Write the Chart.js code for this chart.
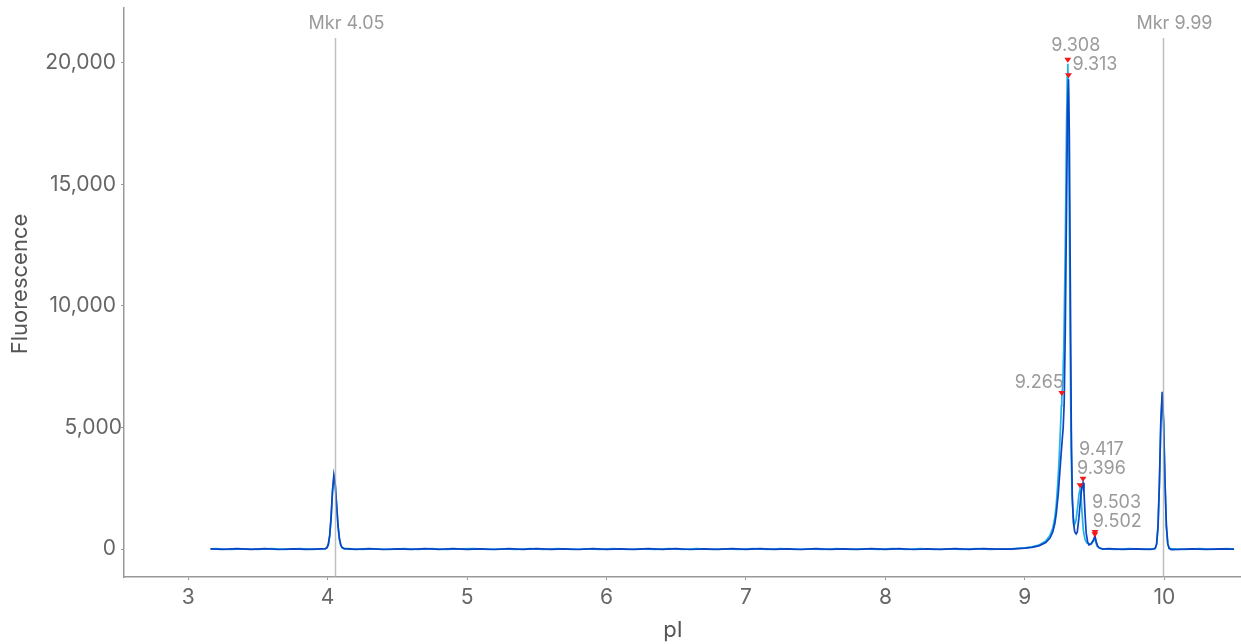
<!DOCTYPE html>
<html>
<head>
<meta charset="utf-8">
<script src="https://cdn.jsdelivr.net/npm/chart.js@4.4.1/dist/chart.umd.min.js"></script>
<style>
  html, body { margin: 0; padding: 0; background: #fff; }
  #wrap { width: 1241px; height: 644px; position: relative; }
</style>
</head>
<body>
<div id="wrap"><canvas id="gel"></canvas></div>
<script>
// Electropherogram: two overlaid traces (pI vs fluorescence)

// dark blue trace [pI, fluorescence]
const blueTrace = [
  [3.16, 10], [3.25, -15], [3.35, 20], [3.45, -10], [3.55, 15], [3.65, -20], [3.75, 10], [3.85, -15], [3.95, 10],
  [3.985, 20], [3.995, 60], [4.005, 190], [4.015, 560], [4.025, 1300], [4.035, 2400], [4.045, 3040],
  [4.055, 2650], [4.065, 1800], [4.075, 950], [4.085, 420], [4.095, 160], [4.105, 60], [4.12, 15],
  [4.2, -10], [4.3, 15], [4.4, -20], [4.5, 10], [4.6, -15], [4.7, 20], [4.8, -10], [4.9, 15],
  [5.0, -15], [5.1, 10], [5.2, -20], [5.3, 15], [5.4, -10], [5.5, 20], [5.6, -15], [5.7, 10], [5.8, -20], [5.9, 15],
  [6.0, -10], [6.1, 10], [6.2, -15], [6.3, 20], [6.4, -10], [6.5, 15], [6.6, -20], [6.7, 10], [6.8, -15], [6.9, 15],
  [7.0, -10], [7.1, 20], [7.2, -15], [7.3, 10], [7.4, -20], [7.5, 15], [7.6, -10], [7.7, 10], [7.8, -15], [7.9, 20],
  [8.0, -10], [8.1, 15], [8.2, -20], [8.3, 10], [8.4, -15], [8.5, 20], [8.6, -10], [8.7, 15], [8.8, -5],
  [8.9, 0], [8.95, 20], [9.0, 40], [9.05, 70], [9.1, 130], [9.15, 270], [9.18, 450], [9.2, 700],
  [9.215, 1050], [9.225, 1450], [9.24, 2300], [9.25, 3100], [9.26, 3900], [9.268, 4500], [9.275, 5000],
  [9.282, 6000], [9.29, 9000], [9.298, 13500], [9.306, 18000], [9.313, 19320], [9.319, 17000],
  [9.326, 11000], [9.333, 5000], [9.34, 2200], [9.348, 1100], [9.358, 700], [9.368, 620], [9.376, 700],
  [9.388, 1300], [9.4, 2100], [9.41, 2600], [9.417, 2728], [9.424, 2350], [9.432, 1400], [9.44, 650],
  [9.45, 300], [9.46, 170], [9.475, 200], [9.49, 350], [9.503, 537], [9.512, 300], [9.522, 120],
  [9.535, 40], [9.56, 0], [9.6, 15], [9.7, -15], [9.8, 10], [9.9, -10], [9.93, 10],
  [9.935, 30], [9.945, 210], [9.955, 940], [9.965, 2750], [9.975, 5240], [9.985, 6470], [9.995, 5240],
  [10.005, 2750], [10.015, 940], [10.025, 210], [10.035, 30],
  [10.05, -20], [10.1, -15], [10.2, 10], [10.3, -15], [10.4, 10], [10.5, -5]
];

// light cyan trace [pI, fluorescence]
const cyanTrace = [
  [3.16, -5], [3.2, 15], [3.3, -20], [3.4, 10], [3.5, -15], [3.6, 20], [3.7, -10], [3.8, 15], [3.9, -15],
  [3.985, 15], [3.995, 50], [4.005, 170], [4.015, 520], [4.025, 1250], [4.035, 2300], [4.045, 2950],
  [4.055, 2600], [4.065, 1750], [4.075, 920], [4.085, 400], [4.095, 150], [4.105, 50], [4.12, 10],
  [4.15, 15], [4.25, -20], [4.35, 10], [4.45, -15], [4.55, 20], [4.65, -10], [4.75, 15], [4.85, -20], [4.95, 10],
  [5.05, 20], [5.15, -15], [5.25, 10], [5.35, -20], [5.45, 15], [5.55, -10], [5.65, 20], [5.75, -15], [5.85, 10], [5.95, -10],
  [6.05, 15], [6.15, -20], [6.25, 10], [6.35, -15], [6.45, 20], [6.55, -10], [6.65, 15], [6.75, -20], [6.85, 10], [6.95, -15],
  [7.05, 15], [7.15, -10], [7.25, 20], [7.35, -15], [7.45, 10], [7.55, -20], [7.65, 15], [7.75, -10], [7.85, 10], [7.95, -15],
  [8.05, 20], [8.15, -10], [8.25, 15], [8.35, -20], [8.45, 10], [8.55, -15], [8.65, 20], [8.75, -10], [8.85, 5],
  [8.9, 10], [8.95, 30], [9.0, 50], [9.05, 90], [9.1, 160], [9.15, 330], [9.18, 560], [9.2, 850],
  [9.215, 1300], [9.225, 1800], [9.235, 2600], [9.245, 3600], [9.255, 4900], [9.262, 5900], [9.265, 6250],
  [9.272, 6800], [9.28, 8500], [9.29, 12500], [9.298, 17000], [9.304, 19500], [9.308, 19960], [9.312, 18800],
  [9.318, 14500], [9.325, 8500], [9.332, 4000], [9.34, 2000], [9.348, 1300], [9.356, 1000], [9.366, 1150],
  [9.378, 1700], [9.388, 2250], [9.396, 2455], [9.403, 2200], [9.41, 1500], [9.42, 750], [9.432, 380],
  [9.445, 250], [9.46, 200], [9.475, 230], [9.49, 320], [9.502, 440], [9.51, 250], [9.52, 110],
  [9.535, 40], [9.56, 10], [9.65, -15], [9.75, 15], [9.85, -10], [9.92, 10],
  [9.935, 25], [9.945, 200], [9.955, 900], [9.965, 2650], [9.975, 5100], [9.985, 6350], [9.995, 5150],
  [10.005, 2700], [10.015, 920], [10.025, 200], [10.035, 25],
  [10.05, 15], [10.15, -20], [10.25, 15], [10.35, -10], [10.45, 15], [10.5, 0]
];

// axis ticks
const xTicks = [3, 4, 5, 6, 7, 8, 9, 10];
const yTicks = [0, 5000, 10000, 15000, 20000];

// reference markers
const markerPI = [4.05, 9.99];
const markerNames = ["Mkr 4.05", "Mkr 9.99"];

// called peaks
const peakNames = ["9.265", "9.308", "9.313", "9.396", "9.417", "9.502", "9.503"];
const peakPI = [9.265, 9.308, 9.313, 9.396, 9.417, 9.502, 9.503];
const peakHeight = [6250, 19960, 19320, 2455, 2728, 440, 537];

const FONT = "Inter, 'Noto Sans', sans-serif";

// label placement relative to the triangle tip: [dx, dy, align]
const peakLabelPlace = [
  [2, -13, "right"],
  [8, -17, "center"],
  [4, -14, "left"],
  [-3, -20, "left"],
  [-4, -32, "left"],
  [-2, -16, "left"],
  [-3, -32, "left"],
];

const annotations = {
  id: "annotations",
  afterDatasetsDraw(chart) {
    const { ctx, chartArea, scales } = chart;
    const x = scales.x, y = scales.y;
    ctx.save();

    // marker lines
    markerPI.forEach((v, i) => {
      const px = Math.round(x.getPixelForValue(v)) + 0.5;
      ctx.strokeStyle = "rgba(170,170,170,0.75)";
      ctx.lineWidth = 1.5;
      ctx.beginPath();
      ctx.moveTo(px, 38);
      ctx.lineTo(px, chartArea.bottom);
      ctx.stroke();
      ctx.fillStyle = "#9a9a9a";
      ctx.font = "18px " + FONT;
      ctx.textAlign = "center";
      ctx.textBaseline = "middle";
      ctx.fillText(markerNames[i], px + 11, 24);
    });

    // peak triangles + labels
    peakPI.forEach((v, i) => {
      const px = x.getPixelForValue(v);
      const tip = y.getPixelForValue(peakHeight[i]) - 1;
      ctx.fillStyle = "#f21a1a";
      ctx.beginPath();
      ctx.moveTo(px, tip);
      ctx.lineTo(px - 3.5, tip - 5);
      ctx.lineTo(px + 3.5, tip - 5);
      ctx.closePath();
      ctx.fill();

      const p = peakLabelPlace[i];
      ctx.fillStyle = "#9a9a9a";
      ctx.font = "18px " + FONT;
      ctx.textAlign = p[2];
      ctx.textBaseline = "middle";
      ctx.fillText(peakNames[i], px + p[0], tip + p[1]);
    });

    // y tick labels (the 5,000 one sits against the axis in the original)
    ctx.fillStyle = "#666";
    ctx.font = "21px " + FONT;
    ctx.textAlign = "right";
    ctx.textBaseline = "middle";
    yTicks.forEach((v) => {
      const shift = v === 5000 ? 6 : 0;
      ctx.fillText(v.toLocaleString("en-US"), 116 + shift, y.getPixelForValue(v));
    });

    // axis titles
    ctx.fillStyle = "#555";
    ctx.font = "22px " + FONT;
    ctx.textAlign = "center";
    ctx.textBaseline = "middle";
    ctx.fillText("pI", 673, 630);
    ctx.translate(20, 284);
    ctx.rotate(-Math.PI / 2);
    ctx.fillText("Fluorescence", 0, 0);

    ctx.restore();
  },
};

new Chart(document.getElementById("gel"), {
  type: "line",
  data: {
    datasets: [
      {
        label: "blue",
        data: blueTrace.map(([px, f]) => ({ x: px, y: f })),
        borderColor: "#0b45c4",
        borderWidth: 1.7,
        pointRadius: 0,
        tension: 0,
      },
      {
        label: "cyan",
        data: cyanTrace.map(([px, f]) => ({ x: px, y: f })),
        borderColor: "#1fb2e8",
        borderWidth: 1.7,
        pointRadius: 0,
        tension: 0,
      },
    ],
  },
  options: {
    responsive: true,
    maintainAspectRatio: false,
    animation: false,
    layout: { padding: { top: 8, left: 0, right: 0, bottom: 0 } },
    plugins: {
      legend: { display: false },
      tooltip: { enabled: false },
    },
    scales: {
      x: {
        type: "linear",
        min: 2.54,
        max: 10.55,
        afterBuildTicks: (s) => { s.ticks = xTicks.map((v) => ({ value: v })); },
        afterFit: (s) => {
          s.height = 67;
          s.paddingLeft = 0;
          s.paddingRight = 0;
        },
        ticks: {
          color: "#666",
          font: { family: FONT, size: 21 },
          padding: 5,
          maxRotation: 0,
          callback: (v) => String(v),
        },
        grid: { drawOnChartArea: false, drawTicks: true, tickLength: 3, color: "#999", lineWidth: 1 },
        border: { display: true, color: "#999", width: 1.5 },
      },
      y: {
        type: "linear",
        min: -1150,
        max: 22250,
        afterBuildTicks: (s) => { s.ticks = yTicks.map((v) => ({ value: v })); },
        afterFit: (s) => {
          s.width = 124;
          s.paddingTop = 0;
          s.paddingBottom = 0;
        },
        ticks: { display: false },
        grid: { drawOnChartArea: false, drawTicks: true, tickLength: 3, color: "#999", lineWidth: 1 },
        border: { display: true, color: "#999", width: 1.5 },
      },
    },
  },
  plugins: [annotations],
});
</script>
</body>
</html>
